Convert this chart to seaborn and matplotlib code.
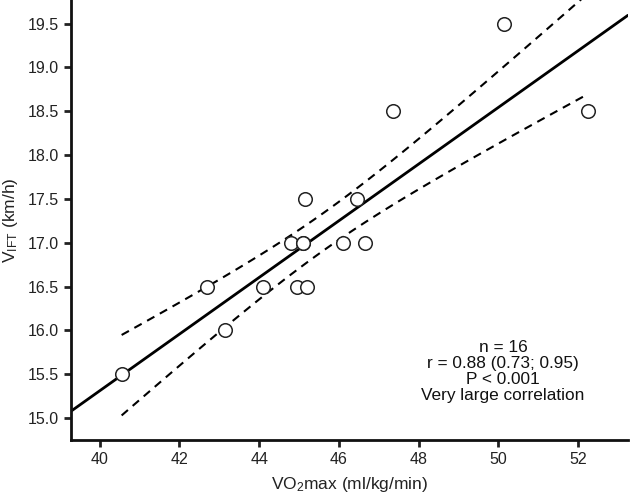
import numpy as np
import pandas as pd
import matplotlib
matplotlib.use("Agg")
import matplotlib.pyplot as plt
import seaborn as sns

# Data
vo2max = [40.55, 42.7, 43.15, 44.1, 44.95, 45.2, 44.8, 45.1, 45.1, 46.1, 46.65,
          45.15, 46.45, 47.35, 50.15, 52.25]
vift = [15.5, 16.5, 16.0, 16.5, 16.5, 16.5, 17.0, 17.0, 17.0, 17.0, 17.0,
        17.5, 17.5, 18.5, 19.5, 18.5]
xticks = [40, 42, 44, 46, 48, 50, 52]
yticks = [15.0, 15.5, 16.0, 16.5, 17.0, 17.5, 18.0, 18.5, 19.0, 19.5]
stats_text = "n = 16\nr = 0.88 (0.73; 0.95)\nP < 0.001\nVery large correlation"

sns.set_style("ticks")
plt.rcParams['font.family'] = ['Liberation Sans', 'DejaVu Sans']
plt.rcParams['mathtext.default'] = 'regular'

df = pd.DataFrame({"x": vo2max, "y": vift})

fig = plt.figure(figsize=(6.3, 4.94), dpi=100)
ax = fig.add_axes([0.1127, 0.1093, 0.884, 0.8907])
ax.set_xlim(39.28, 53.25)
ax.set_ylim(14.75, 19.77)

# regression line across the full axis
sns.regplot(data=df, x="x", y="y", scatter=False, ci=None, truncate=False,
            color="black", line_kws={"lw": 2.0}, ax=ax)

# confidence band of the regression line (dashed)
x = np.asarray(vo2max); y = np.asarray(vift)
n = len(x)
b, a = np.polyfit(x, y, 1)
resid = y - (a + b * x)
s = np.sqrt(np.sum(resid**2) / (n - 2))
sxx = np.sum((x - x.mean())**2)
t = 1.761
xs = np.linspace(x.min(), x.max(), 100)
se = s * np.sqrt(1.0 / n + (xs - x.mean())**2 / sxx)
band = pd.DataFrame({"x": xs, "lo": a + b * xs - t * se, "hi": a + b * xs + t * se})
sns.lineplot(data=band, x="x", y="lo", color="black", lw=1.5, ls=(0, (4, 3)), ax=ax)
sns.lineplot(data=band, x="x", y="hi", color="black", lw=1.5, ls=(0, (4, 3)), ax=ax)

sns.scatterplot(data=df, x="x", y="y", s=95, facecolor="white",
                edgecolor="#222222", linewidth=1.1, zorder=5, ax=ax)

ax.set_xticks(xticks)
ax.set_yticks(yticks)
ax.set_yticklabels([f"{v:.1f}" for v in yticks])
ax.tick_params(axis="both", labelsize=11.5, width=2, length=5, color="#222222",
               labelcolor="#222222", direction="out")
for side in ["left", "bottom"]:
    ax.spines[side].set_linewidth(2)
    ax.spines[side].set_color("#111111")
sns.despine(ax=ax)

ax.set_xlabel("VO$_2$max (ml/kg/min)", fontsize=12.5, color="#222222", labelpad=6)
ax.set_ylabel("V$_{IFT}$ (km/h)", fontsize=12.5, color="#222222", labelpad=6)

ax.text(0.776, 0.155, stats_text, transform=ax.transAxes, ha="center", va="center",
        fontsize=12.4, color="#111111", linespacing=1.08)

fig.savefig("out.png", dpi=100)
